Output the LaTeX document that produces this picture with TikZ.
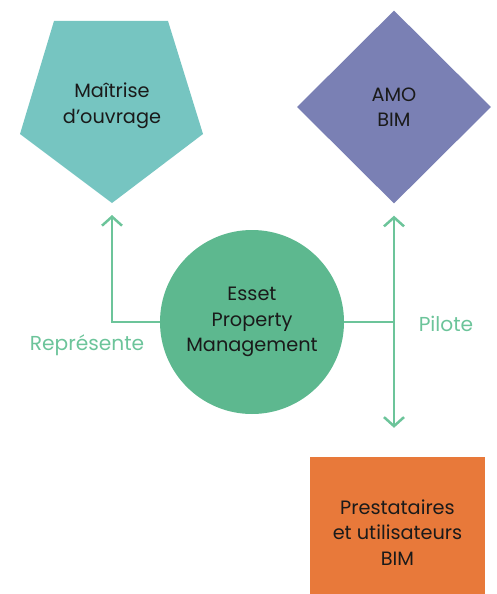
\documentclass[tikz,border=0pt]{standalone}
\usepackage{fontspec}
\setmainfont{Poppins}
\usepackage{tikz}
\usetikzlibrary{arrows.meta, positioning, shapes.geometric, calc}

\definecolor{moteal}{HTML}{76C5C1}
\definecolor{amoblue}{HTML}{7A80B4}
\definecolor{essetgreen}{HTML}{5DB88F}
\definecolor{prestorange}{HTML}{E8793A}
\definecolor{linkgreen}{HTML}{6CC49A}
\definecolor{inkblack}{HTML}{1A1A1A}

\begin{document}
\begin{tikzpicture}[x=1pt, y=-1pt, >={Straight Barb[length=9pt, width=20pt]},
  every node/.style={font=\fontsize{19.3}{25.5}\selectfont, text=inkblack, align=center},
  link/.style={draw=linkgreen, line width=2.5pt},
  tag/.style={text=linkgreen, font=\fontsize{20.2}{25.5}\selectfont}]
\useasboundingbox (0,0) rectangle (497,594);

\fill[moteal] (54,21) -- (168,21) -- (203,134) -- (112,203) -- (20,134) -- cycle;
\node (mo) at (112,106) {Maîtrise\\d’ouvrage};
\coordinate (mo tip) at (112,203);

\node[diamond, fill=amoblue, minimum width=194pt, minimum height=193pt, inner sep=0pt] (amo) at (394,107) {AMO\\BIM};

\node[circle, fill=essetgreen, minimum size=184pt, inner sep=0pt] (esset) at (252,322) {Esset\\Property\\Management};

\node[rectangle, fill=prestorange, minimum width=175pt, minimum height=137pt] (prest) at (397.5,525.5) {};
\node (prest text) at ([yshift=-7pt]prest.center) {Prestataires\\et utilisateurs\\BIM};

\coordinate (pilot) at (393,322);

\draw[link, ->] (esset.west) -| ([yshift=-12pt]mo tip);
\draw[link] (esset.east) -- (pilot);
\draw[link, <->] ([yshift=-12pt]amo.south) -- ([yshift=29pt]amo.south |- prest.north);

\node[tag] (repr) at (87,345) {Représente};
\node[tag] (pilote) at (446,324) {Pilote};

\end{tikzpicture}
\end{document}
